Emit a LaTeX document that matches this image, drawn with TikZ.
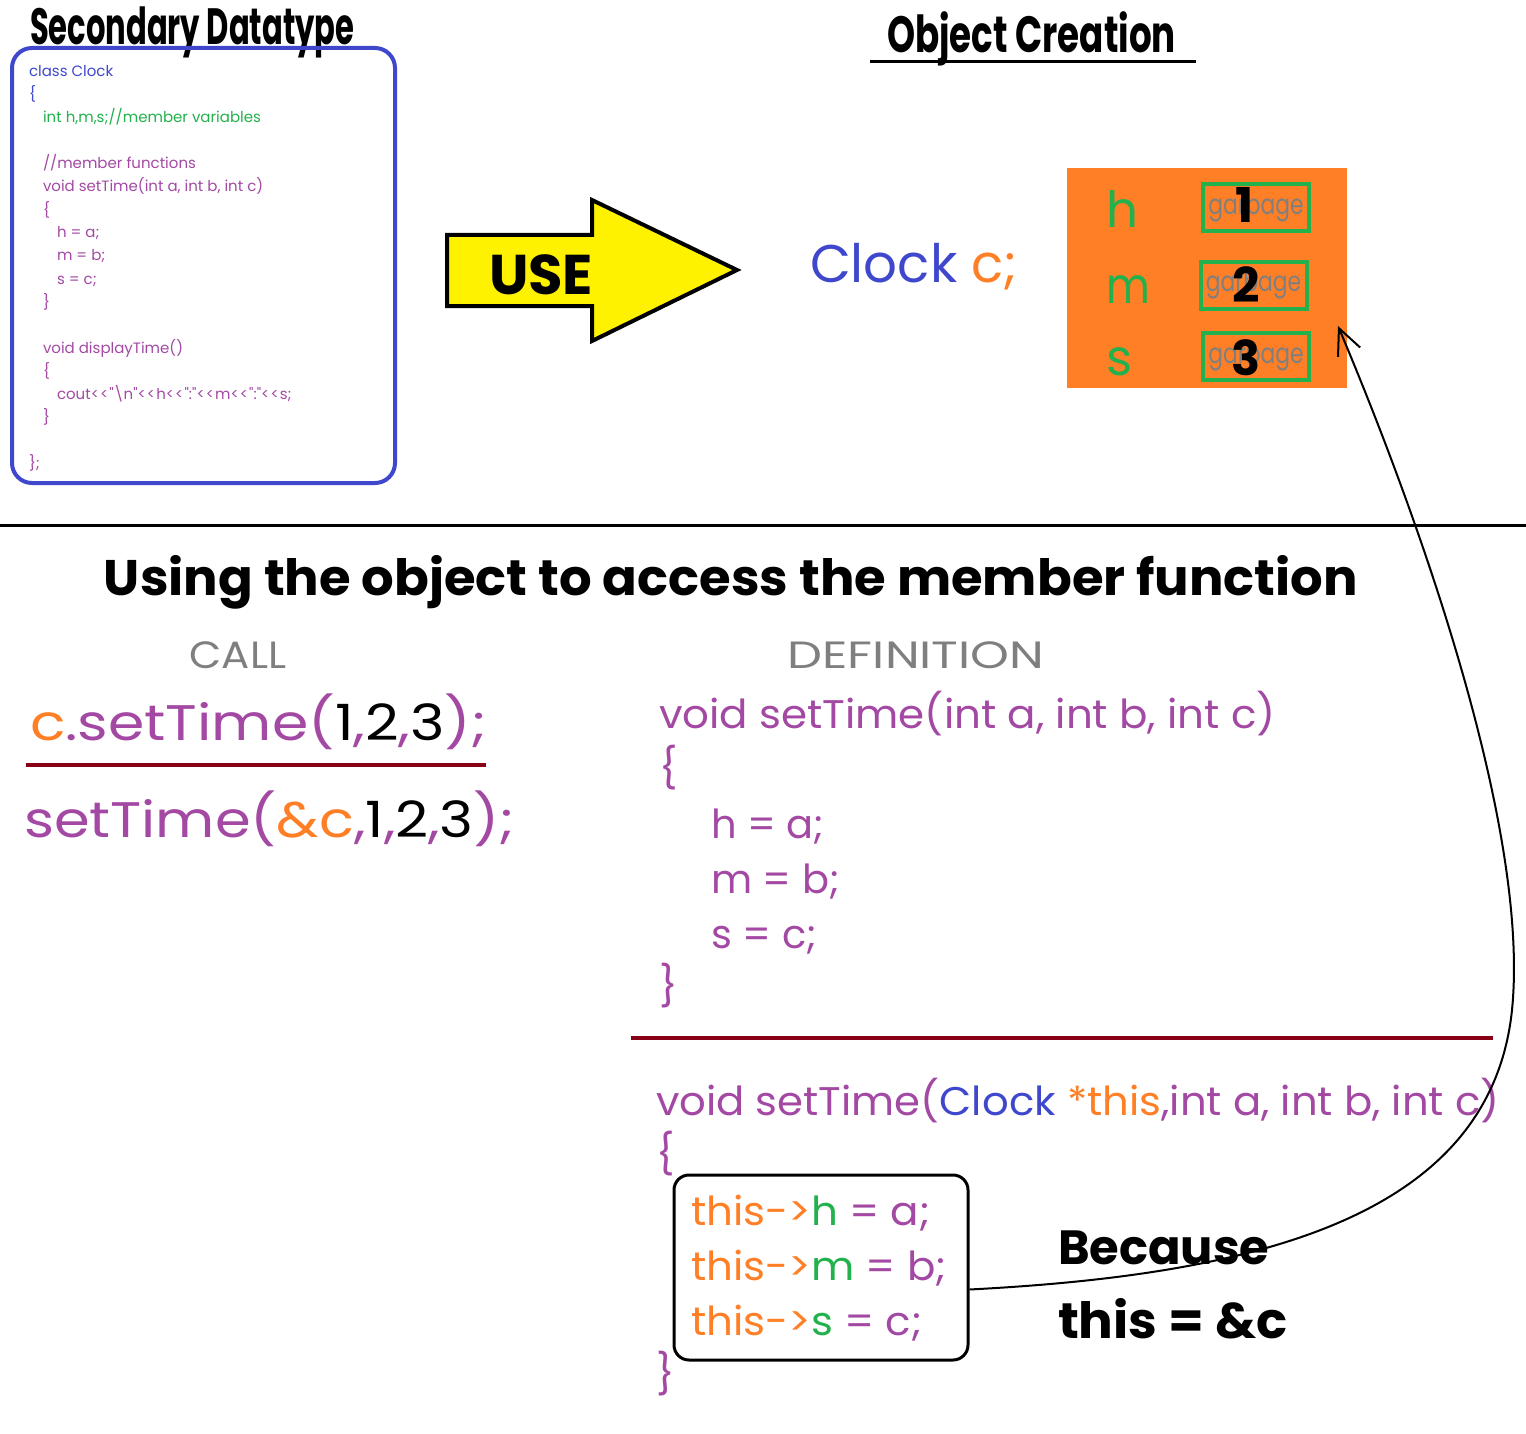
\documentclass[tikz,border=0pt]{standalone}
\usepackage{fontspec}
\setmainfont{Poppins}
\newfontfamily\plainp{Poppins}[Ligatures=TeXOff]
\usetikzlibrary{arrows.meta}
\definecolor{cblue}{HTML}{3F48CC}
\definecolor{cgreen}{HTML}{22B14C}
\definecolor{cpurple}{HTML}{A349A4}
\definecolor{corange}{HTML}{FF7F27}
\definecolor{cgray}{HTML}{7F7F7F}
\definecolor{cdred}{HTML}{880015}
\definecolor{cyellow}{HTML}{FFF200}
\newcommand{\fs}[1]{\fontsize{#1}{#1}\selectfont}
\newcommand{\myqq}{\symbol{34}}
\newcommand{\myshl}{<\kern1pt<\kern1pt}
\begin{document}
\begin{tikzpicture}[x=1pt,y=-1pt,
  txt/.style={anchor=base west, inner sep=0pt, outer sep=0pt},
  code/.style={txt, font=\fs{15}},
  big/.style={txt, font=\fs{40}},
  gbox/.style={draw=cgreen, line width=4pt, minimum width=106pt, minimum height=47pt, inner sep=0pt},
  num/.style={font=\bfseries\fs{48}, inner sep=0pt}]
\useasboundingbox (0,0) rectangle (1526,1434);

% ---------- top left: class definition ----------
\node[txt, font=\bfseries\fs{51}] (t1) at (30,45) {\scalebox{0.6}[1]{Secondary Datatype}};
\node[draw=cblue, line width=4pt, rounded corners=20pt, minimum width=383pt, minimum height=435pt, inner sep=0pt] (classbox) at (203.5,265.5) {};
\node[code, text=cblue] (l1) at (29,77) {class Clock};
\node[code, text=cblue] (l2) at (29,100) {\{};
\node[code, text=cgreen] (l3) at (43,123) {int h,m,s;//member variables};
\node[code, text=cpurple] (l4) at (43,169) {//member functions};
\node[code, text=cpurple] (l5) at (43,192) {void setTime(int a, int b, int c)};
\node[code, text=cpurple] (l6) at (43,215) {\{};
\node[code, text=cpurple] (l7) at (57,238) {h = a;};
\node[code, text=cpurple] (l8) at (57,261) {m = b;};
\node[code, text=cpurple] (l9) at (57,284) {s = c;};
\node[code, text=cpurple] (l10) at (43,307) {\}};
\node[code, text=cpurple] (l11) at (43,353) {void displayTime()};
\node[code, text=cpurple] (l12) at (43,376) {\{};
\node[code, text=cpurple] (l13) at (57,399) {\plainp cout\myshl\myqq\textbackslash n\myqq\myshl h\myshl\myqq:\myqq\myshl m\myshl\myqq:\myqq\myshl s;};
\node[code, text=cpurple] (l14) at (43,422) {\}};
\node[code, text=cpurple] (l15) at (29,468) {\};};

% ---------- USE arrow ----------
\draw[fill=cyellow, line width=4pt, line join=miter] (447,235) -- (592,235) -- (592,200) -- (737,270) -- (592,341) -- (592,306) -- (447,306) -- cycle;
\node[txt, font=\bfseries\fs{56}] (use) at (489,294) {USE};

% ---------- object creation ----------
\node[txt, font=\bfseries\fs{51}] (t2) at (887,53) {\scalebox{0.7}[1]{Object Creation}};
\draw[line width=3pt] (870,62) -- (1196,62);
\node[txt, font=\fs{53}] (decl) at (810,282) {\textcolor{cblue}{Clock} \textcolor{corange}{c;}};
\node[fill=corange, minimum width=280pt, minimum height=220pt, inner sep=0pt] (obj) at (1207,278) {};
\node[txt, text=cgreen, font=\fs{50}] (vh) at (1106,228) {h};
\node[txt, text=cgreen, font=\fs{50}] (vm) at (1106,303) {\scalebox{0.85}[1]{m}};
\node[txt, text=cgreen, font=\fs{50}] (vs) at (1106,375) {s};
\node[gbox] (g1) at (1256,207.5) {\textcolor{cgray}{\fs{28}\scalebox{0.78}[1]{garbage}}};
\node[gbox] (g2) at (1253.5,285) {\textcolor{cgray}{\fs{28}\scalebox{0.78}[1]{garbage}}};
\node[gbox] (g3) at (1256,356.5) {\textcolor{cgray}{\fs{28}\scalebox{0.78}[1]{garbage}}};
\node[num] (n1) at (1245,205) {1};
\node[num] (n2) at (1246,285) {2};
\node[num] (n3) at (1246,358) {3};

% ---------- separator ----------
\draw[line width=3pt] (0,525) -- (1526,525);
\node[anchor=base, inner sep=0pt, font=\bfseries\fs{50}] (head) at (731,595) {\scalebox{1.025}[1]{Using the object to access the member function}};
\node[anchor=base, inner sep=0pt, text=cgray, font=\fs{38}] (call) at (238,668) {\scalebox{1.1}[1]{CALL}};
\node[anchor=base, inner sep=0pt, text=cgray, font=\fs{38}] (defn) at (916,668) {\scalebox{1.3}[1]{DEFINITION}};

% ---------- call ----------
\node[txt, font=\fs{50}] (c1) at (30,740) {\scalebox{1.17}[1]{\textcolor{corange}{c}\textcolor{cpurple}{.setTime(}1\textcolor{cpurple}{,}2\textcolor{cpurple}{,}3\textcolor{cpurple}{);}}};
\draw[cdred, line width=4pt] (26,765) -- (486,765);
\node[txt, font=\fs{50}] (c2) at (24,837) {\scalebox{1.15}[1]{\textcolor{cpurple}{setTime(}\textcolor{corange}{\&c}\textcolor{cpurple}{,}1\textcolor{cpurple}{,}2\textcolor{cpurple}{,}3\textcolor{cpurple}{);}}};

% ---------- definition ----------
\node[big, text=cpurple] (d1) at (659,728) {\scalebox{1.05}[1]{void setTime(int a, int b, int c)}};
\node[big, text=cpurple] (d2) at (659,782) {\{};
\node[big, text=cpurple] (d3) at (711,838) {h = a;};
\node[big, text=cpurple] (d4) at (711,893) {m = b;};
\node[big, text=cpurple] (d5) at (711,948) {s = c;};
\node[big, text=cpurple] (d6) at (659,1000) {\}};
\draw[cdred, line width=4pt] (631,1038) -- (1493,1038);

\node[big] (e1) at (656,1115) {\scalebox{1.045}[1]{\textcolor{cpurple}{void setTime(}\textcolor{cblue}{Clock} \textcolor{corange}{*this}\textcolor{cpurple}{,int a, int b, int c)}}};
\node[big, text=cpurple] (e2) at (656,1168) {\{};
\node[draw, line width=3pt, rounded corners=15pt, minimum width=294pt, minimum height=185pt, inner sep=0pt] (tbox) at (821,1267.5) {};
\node[big] (e3) at (691,1225) {\scalebox{1.05}[1]{\textcolor{corange}{this->}\textcolor{cgreen}{h}\textcolor{cpurple}{\ = a;}}};
\node[big] (e4) at (691,1280) {\scalebox{1.05}[1]{\textcolor{corange}{this->}\textcolor{cgreen}{m}\textcolor{cpurple}{\ = b;}}};
\node[big] (e5) at (691,1335) {\scalebox{1.05}[1]{\textcolor{corange}{this->}\textcolor{cgreen}{s}\textcolor{cpurple}{\ = c;}}};
\node[big, text=cpurple] (e6) at (656,1388) {\}};

\node[txt, font=\bfseries\fs{48}] (bc) at (1058,1264) {Because};
\node[txt, font=\bfseries\fs{50}] (eq) at (1058,1338) {\scalebox{1.03}[1]{this = \&c}};

% ---------- connector ----------
\coordinate (aend) at (1338,326);
\draw[line width=2pt, -{Straight Barb[length=26pt,width=24pt]}] ([yshift=-22pt]tbox.east) .. controls (1250,1275) and (1490,1220) .. (1512,1010) .. controls (1530,830) and (1420,520) .. (aend);
\end{tikzpicture}
\end{document}
